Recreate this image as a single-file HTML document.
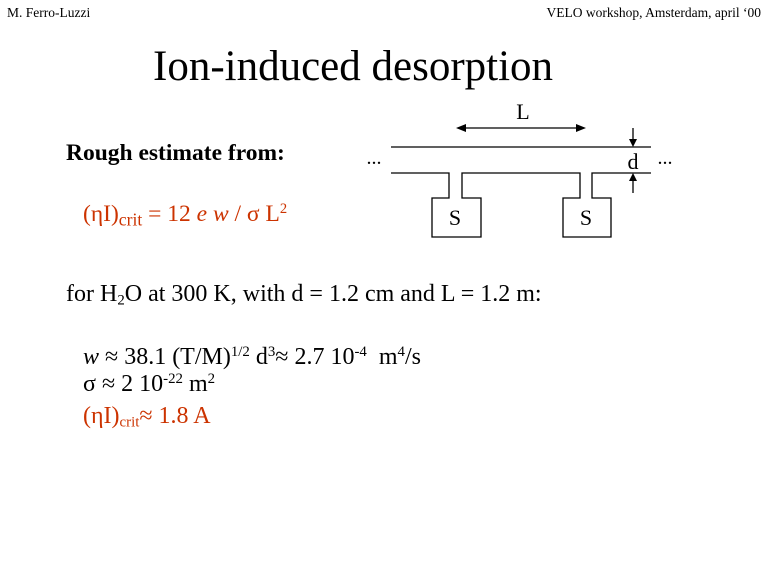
<!DOCTYPE html>
<html><head><style>
body{margin:0;width:768px;height:576px;background:#fff;position:relative;overflow:hidden;font-family:"Liberation Serif",serif;color:#000}
.t{position:absolute;white-space:nowrap;line-height:1}
.r{color:#cc3300}
sub,sup{font-size:62%}
sup{vertical-align:55%}
sub{vertical-align:-25%}
</style></head><body>
<div class="t" style="left:7px;top:6px;font-size:13.5px">M. Ferro-Luzzi</div>
<div class="t" style="right:7px;top:6px;font-size:13.5px">VELO workshop, Amsterdam, april ‘00</div>
<div class="t" style="left:153px;top:45px;font-size:43px">Ion-induced desorption</div>
<div class="t" style="left:66px;top:142px;font-size:23.5px;font-weight:bold">Rough estimate from:</div>
<div class="t r" style="left:83px;top:202px;font-size:23.5px">(ηI)<sub style="font-size:75%">crit</sub> = 12 <i>e w</i> / σ L<sup>2</sup></div>
<div class="t" style="left:66px;top:282px;font-size:24px">for H<sub>2</sub>O at 300 K, with d = 1.2 cm and L = 1.2 m:</div>
<div class="t" style="left:83px;top:345px;font-size:24px"><i>w</i> ≈ 38.1 (T/M)<sup>1/2</sup> d<sup>3</sup>≈ 2.7 10<sup>-4</sup>&nbsp; m<sup>4</sup>/s</div>
<div class="t" style="left:83px;top:372px;font-size:24px">σ ≈ 2 10<sup>-22</sup> m<sup>2</sup></div>
<div class="t r" style="left:83px;top:404px;font-size:24px">(ηI)<sub>crit</sub>≈ 1.8 A</div>
<svg style="position:absolute;left:0;top:0" width="768" height="576">
<g stroke="#000" stroke-width="1.3" fill="none">
<line x1="391" y1="147" x2="651" y2="147"/>
<polyline points="391,173 449,173 449,198 432,198 432,237 481,237 481,198 462,198 462,173 580,173 580,198 563,198 563,237 611,237 611,198 592,198 592,173 651,173"/>
<line x1="462" y1="128" x2="580" y2="128"/>
<line x1="633" y1="128" x2="633" y2="141"/>
<line x1="633" y1="179" x2="633" y2="193"/>
</g>
<g fill="#000">
<polygon points="456,128 466,124 466,132"/>
<polygon points="586,128 576,124 576,132"/>
<polygon points="633,147 629,139 637,139"/>
<polygon points="633,173 629,181 637,181"/>
</g>
<g font-family="Liberation Serif,serif" font-size="22">
<text x="523" y="119" text-anchor="middle">L</text>
<text x="633" y="169" text-anchor="middle">d</text>
<text x="455" y="225" text-anchor="middle">S</text>
<text x="586" y="225" text-anchor="middle">S</text>
<text x="374" y="164" text-anchor="middle" font-size="20">...</text>
<text x="665" y="164" text-anchor="middle" font-size="20">...</text>
</g>
</svg>
</body></html>
